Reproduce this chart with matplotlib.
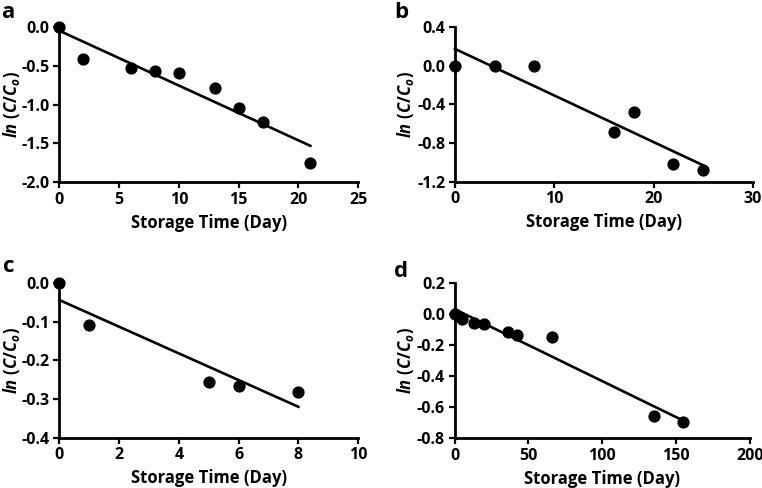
import numpy as np
import matplotlib
matplotlib.use("Agg")
import matplotlib.pyplot as plt

FONT = "Open Sans"
plt.rcParams['font.family'] = [FONT, 'DejaVu Sans']
plt.rcParams['font.weight'] = 'bold'
plt.rcParams['mathtext.fontset'] = 'custom'
plt.rcParams['mathtext.rm'] = FONT + ':bold'
plt.rcParams['mathtext.it'] = FONT + ':bold:italic'
plt.rcParams['mathtext.bf'] = FONT + ':bold'

# Data
a_x = [0, 2, 6, 8, 10, 13, 15, 17, 21]
a_y = [0.0, -0.42, -0.53, -0.57, -0.60, -0.79, -1.05, -1.23, -1.75]
b_x = [0, 4, 8, 16, 18, 22, 25]
b_y = [0.0, 0.0, 0.0, -0.69, -0.48, -1.02, -1.08]
c_x = [0, 1, 5, 6, 8]
c_y = [0.0, -0.108, -0.255, -0.266, -0.281]
d_x = [0, 5, 13, 20, 36, 42, 66, 135, 155]
d_y = [0.0, -0.032, -0.058, -0.062, -0.114, -0.133, -0.144, -0.654, -0.697]

panels = ['a', 'b', 'c', 'd']
xlims = [(0, 25), (0, 30), (0, 10), (0, 200)]
xticks = [[0, 5, 10, 15, 20, 25], [0, 10, 20, 30], [0, 2, 4, 6, 8, 10], [0, 50, 100, 150, 200]]
ylims = [(-2.0, 0.0), (-1.2, 0.4), (-0.4, 0.0), (-0.8, 0.2)]
yticks = [[-2.0, -1.5, -1.0, -0.5, 0.0], [-1.2, -0.8, -0.4, 0.0, 0.4],
          [-0.4, -0.3, -0.2, -0.1, 0.0], [-0.8, -0.6, -0.4, -0.2, 0.0, 0.2]]
data = [(a_x, a_y), (b_x, b_y), (c_x, c_y), (d_x, d_y)]

rects = [
    [0.078, 0.6264, 0.392, 0.3186],
    [0.597, 0.6277, 0.391, 0.3173],
    [0.078, 0.103, 0.392, 0.317],
    [0.5967, 0.1018, 0.3873, 0.3177],
]
ylabel_x = [-0.124, -0.131, -0.124, -0.131]
letter_pos = [(0.002, 0.963), (0.518, 0.963), (0.004, 0.443), (0.517, 0.432)]

fig = plt.figure(figsize=(7.62, 4.88), dpi=100)
for i, (px, py) in enumerate(data):
    ax = fig.add_axes(rects[i])
    x = np.array(px, dtype=float)
    y = np.array(py, dtype=float)
    k, b = np.polyfit(x, y, 1)
    xx = np.array([x.min(), x.max()])
    ax.plot(xx, k * xx + b, color='black', lw=1.9, clip_on=False, zorder=2)
    ax.plot(x, y, 'o', color='black', ms=7.8, clip_on=False, zorder=3)
    ax.set_xlim(*xlims[i])
    ax.set_ylim(*ylims[i])
    ax.set_xticks(xticks[i])
    ax.set_yticks(yticks[i])
    ax.set_yticklabels(['%.1f' % v for v in yticks[i]])
    ax.set_xticklabels(['%d' % v for v in xticks[i]])
    for s in ['top', 'right']:
        ax.spines[s].set_visible(False)
    for s in ['left', 'bottom']:
        ax.spines[s].set_linewidth(2.0)
    ax.tick_params(axis='both', direction='out', length=4, width=1.6, labelsize=11.5, pad=3)
    for lab in ax.get_xticklabels() + ax.get_yticklabels():
        lab.set_fontweight('bold')
    ax.set_xlabel('Storage Time (Day)', fontsize=12, fontweight='bold', labelpad=4)
    ax.set_ylabel(r'$ln\ (C/C_o)$', fontsize=12)
    ax.yaxis.set_label_coords(ylabel_x[i], 0.5)
    ax.set_facecolor('none')
    lx, ly = letter_pos[i]
    fig.text(lx, ly, panels[i], fontsize=16, fontweight='bold', va='baseline', ha='left')

fig.savefig('out.png', dpi=100)
